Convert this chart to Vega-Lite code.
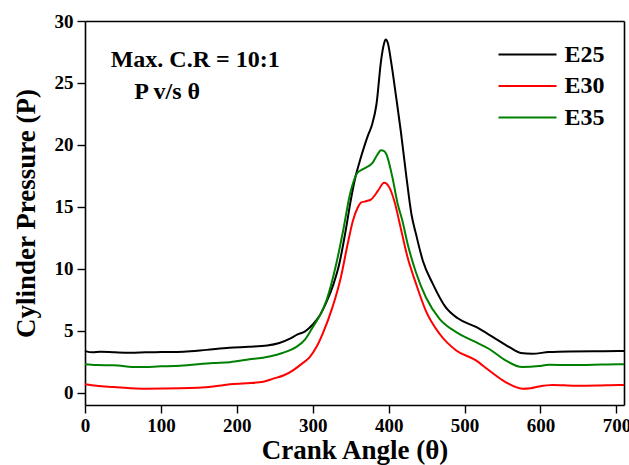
{
  "$schema": "https://vega.github.io/schema/vega-lite/v6.json",
  "width": 539,
  "height": 384,
  "autosize": {"type": "none"},
  "padding": {"left": 85, "top": 21, "right": 5, "bottom": 60},
  "background": "white",
  "config": {
    "font": "Liberation Serif",
    "view": {"stroke": null},
    "axis": {
      "domainColor": "#000000",
      "domainWidth": 1.6,
      "tickColor": "#000000",
      "tickWidth": 1.4,
      "grid": false,
      "labelFont": "Liberation Serif",
      "labelFontWeight": "bold",
      "labelFontSize": 19,
      "labelColor": "#000000",
      "titleFont": "Liberation Serif",
      "titleFontWeight": "bold",
      "titleFontSize": 27,
      "titleColor": "#000000"
    }
  },
  "datasets": {
    "curves": [
      {"s": "E25", "x": 0, "y": 3.35}, {"s": "E25", "x": 10, "y": 3.25}, {"s": "E25", "x": 20, "y": 3.3}, {"s": "E25", "x": 40, "y": 3.25},
      {"s": "E25", "x": 60, "y": 3.22}, {"s": "E25", "x": 80, "y": 3.25}, {"s": "E25", "x": 100, "y": 3.27}, {"s": "E25", "x": 130, "y": 3.3},
      {"s": "E25", "x": 160, "y": 3.45}, {"s": "E25", "x": 190, "y": 3.62}, {"s": "E25", "x": 215, "y": 3.7}, {"s": "E25", "x": 240, "y": 3.8},
      {"s": "E25", "x": 256, "y": 4.0}, {"s": "E25", "x": 270, "y": 4.35}, {"s": "E25", "x": 280, "y": 4.7}, {"s": "E25", "x": 290, "y": 4.95},
      {"s": "E25", "x": 300, "y": 5.5}, {"s": "E25", "x": 309, "y": 6.2}, {"s": "E25", "x": 318, "y": 7.3}, {"s": "E25", "x": 327, "y": 8.7}, {"s": "E25", "x": 335, "y": 10.4}, {"s": "E25", "x": 344, "y": 13.3},
      {"s": "E25", "x": 350, "y": 15.5}, {"s": "E25", "x": 357, "y": 17.6}, {"s": "E25", "x": 362, "y": 18.7}, {"s": "E25", "x": 368, "y": 19.9},
      {"s": "E25", "x": 373, "y": 20.8}, {"s": "E25", "x": 378, "y": 21.6}, {"s": "E25", "x": 384, "y": 23.3}, {"s": "E25", "x": 390, "y": 26.8},
      {"s": "E25", "x": 394, "y": 28.2}, {"s": "E25", "x": 396, "y": 28.5}, {"s": "E25", "x": 399, "y": 28.2}, {"s": "E25", "x": 403, "y": 26.8},
      {"s": "E25", "x": 410, "y": 23.8}, {"s": "E25", "x": 416, "y": 21.1}, {"s": "E25", "x": 423, "y": 17.6}, {"s": "E25", "x": 430, "y": 14.4},
      {"s": "E25", "x": 436, "y": 12.8}, {"s": "E25", "x": 445, "y": 10.65}, {"s": "E25", "x": 458, "y": 8.8}, {"s": "E25", "x": 475, "y": 6.9},
      {"s": "E25", "x": 491, "y": 6.0}, {"s": "E25", "x": 515, "y": 5.3}, {"s": "E25", "x": 537, "y": 4.5}, {"s": "E25", "x": 559, "y": 3.67},
      {"s": "E25", "x": 574, "y": 3.2}, {"s": "E25", "x": 589, "y": 3.14}, {"s": "E25", "x": 611, "y": 3.27}, {"s": "E25", "x": 638, "y": 3.32},
      {"s": "E25", "x": 670, "y": 3.33}, {"s": "E25", "x": 703, "y": 3.35}, {"s": "E25", "x": 710, "y": 3.35},

      {"s": "E30", "x": 0, "y": 0.67}, {"s": "E30", "x": 15, "y": 0.55}, {"s": "E30", "x": 37, "y": 0.45}, {"s": "E30", "x": 60, "y": 0.36},
      {"s": "E30", "x": 81, "y": 0.32}, {"s": "E30", "x": 125, "y": 0.35}, {"s": "E30", "x": 169, "y": 0.5}, {"s": "E30", "x": 191, "y": 0.67},
      {"s": "E30", "x": 212, "y": 0.75}, {"s": "E30", "x": 235, "y": 0.88}, {"s": "E30", "x": 248, "y": 1.13}, {"s": "E30", "x": 262, "y": 1.4},
      {"s": "E30", "x": 274, "y": 1.8}, {"s": "E30", "x": 285, "y": 2.3}, {"s": "E30", "x": 296, "y": 2.87}, {"s": "E30", "x": 305, "y": 3.7},
      {"s": "E30", "x": 313, "y": 4.75}, {"s": "E30", "x": 326, "y": 6.9}, {"s": "E30", "x": 337, "y": 9.3}, {"s": "E30", "x": 346, "y": 12.0},
      {"s": "E30", "x": 353, "y": 13.9}, {"s": "E30", "x": 359, "y": 14.9}, {"s": "E30", "x": 364, "y": 15.35}, {"s": "E30", "x": 370, "y": 15.45},
      {"s": "E30", "x": 377, "y": 15.6}, {"s": "E30", "x": 386, "y": 16.3}, {"s": "E30", "x": 394, "y": 16.95}, {"s": "E30", "x": 401, "y": 16.55},
      {"s": "E30", "x": 408, "y": 15.35}, {"s": "E30", "x": 414, "y": 13.8}, {"s": "E30", "x": 425, "y": 10.9}, {"s": "E30", "x": 436, "y": 8.8},
      {"s": "E30", "x": 449, "y": 6.6}, {"s": "E30", "x": 467, "y": 4.75}, {"s": "E30", "x": 489, "y": 3.4}, {"s": "E30", "x": 515, "y": 2.6},
      {"s": "E30", "x": 532, "y": 1.8}, {"s": "E30", "x": 554, "y": 0.85}, {"s": "E30", "x": 576, "y": 0.32}, {"s": "E30", "x": 587, "y": 0.36},
      {"s": "E30", "x": 598, "y": 0.5}, {"s": "E30", "x": 616, "y": 0.62}, {"s": "E30", "x": 646, "y": 0.55}, {"s": "E30", "x": 675, "y": 0.57},
      {"s": "E30", "x": 703, "y": 0.62}, {"s": "E30", "x": 710, "y": 0.62},

      {"s": "E35", "x": 0, "y": 2.28}, {"s": "E35", "x": 15, "y": 2.22}, {"s": "E35", "x": 37, "y": 2.2}, {"s": "E35", "x": 70, "y": 2.06},
      {"s": "E35", "x": 100, "y": 2.12}, {"s": "E35", "x": 125, "y": 2.17}, {"s": "E35", "x": 169, "y": 2.39}, {"s": "E35", "x": 191, "y": 2.46},
      {"s": "E35", "x": 213, "y": 2.65}, {"s": "E35", "x": 243, "y": 2.92}, {"s": "E35", "x": 260, "y": 3.2}, {"s": "E35", "x": 278, "y": 3.67},
      {"s": "E35", "x": 290, "y": 4.3}, {"s": "E35", "x": 300, "y": 5.28}, {"s": "E35", "x": 310, "y": 6.3}, {"s": "E35", "x": 318, "y": 7.43},
      {"s": "E35", "x": 331, "y": 10.4}, {"s": "E35", "x": 340, "y": 13.07}, {"s": "E35", "x": 349, "y": 16.0}, {"s": "E35", "x": 353, "y": 16.9},
      {"s": "E35", "x": 359, "y": 17.76}, {"s": "E35", "x": 365, "y": 18.0}, {"s": "E35", "x": 370, "y": 18.17}, {"s": "E35", "x": 379, "y": 18.57},
      {"s": "E35", "x": 385, "y": 19.2}, {"s": "E35", "x": 390, "y": 19.56}, {"s": "E35", "x": 394, "y": 19.5}, {"s": "E35", "x": 397, "y": 19.24},
      {"s": "E35", "x": 405, "y": 17.36}, {"s": "E35", "x": 412, "y": 15.2}, {"s": "E35", "x": 418, "y": 13.9}, {"s": "E35", "x": 425, "y": 12.0},
      {"s": "E35", "x": 436, "y": 9.7}, {"s": "E35", "x": 449, "y": 7.7}, {"s": "E35", "x": 467, "y": 5.96}, {"s": "E35", "x": 489, "y": 4.88},
      {"s": "E35", "x": 515, "y": 4.07}, {"s": "E35", "x": 532, "y": 3.54}, {"s": "E35", "x": 554, "y": 2.6}, {"s": "E35", "x": 576, "y": 2.06},
      {"s": "E35", "x": 598, "y": 2.14}, {"s": "E35", "x": 611, "y": 2.25}, {"s": "E35", "x": 640, "y": 2.22}, {"s": "E35", "x": 670, "y": 2.25},
      {"s": "E35", "x": 703, "y": 2.28}, {"s": "E35", "x": 710, "y": 2.28}
    ],
    "notes": [
      {"x": 33.8, "y": 26.3, "t": "Max. C.R = 10:1"},
      {"x": 64.8, "y": 23.67, "t": "P v/s θ"}
    ]
  },
  "resolve": {"axis": {"x": "independent", "y": "independent"}},
  "layer": [
    {
      "data": {"name": "curves"},
      "mark": {"type": "line", "interpolate": "monotone", "strokeWidth": 2},
      "encoding": {
        "x": {"field": "x", "type": "quantitative", "scale": {"domain": [0, 710], "nice": false, "zero": false},
          "axis": {"orient": "bottom", "values": [0, 100, 200, 300, 400, 500, 600, 700], "ticks": true, "tickSize": 8, "labelPadding": 3, "labelFlush": false, "title": "Crank Angle (θ)", "titlePadding": 2}},
        "y": {"field": "y", "type": "quantitative", "scale": {"domain": [-1, 30], "nice": false, "zero": false},
          "axis": {"orient": "left", "values": [0, 5, 10, 15, 20, 25, 30], "ticks": true, "tickSize": 8, "labelPadding": 4, "labelFlush": false, "title": "Cylinder Pressure (P)", "titlePadding": 14}},
        "color": {"field": "s", "type": "nominal",
          "scale": {"domain": ["E25", "E30", "E35"], "range": ["#000000", "#ff0000", "#008000"]},
          "legend": {"orient": "none", "legendX": 427, "legendY": 18, "title": null, "symbolType": "M-2,0H2", "symbolSize": 841, "symbolStrokeWidth": 2,
            "labelFont": "Liberation Serif", "labelFontWeight": "bold", "labelFontSize": 24, "labelColor": "#000000", "labelOffset": 21.5, "rowPadding": 3.5}}
      }
    },
    {
      "data": {"name": "curves"},
      "mark": {"type": "line", "opacity": 0},
      "encoding": {
        "x": {"field": "x", "type": "quantitative",
          "axis": {"orient": "top", "ticks": false, "labels": false, "domain": true, "title": null}},
        "y": {"field": "y", "type": "quantitative",
          "axis": {"orient": "right", "ticks": false, "labels": false, "domain": true, "title": null}},
        "detail": {"field": "s"}
      }
    },
    {
      "data": {"name": "notes"},
      "mark": {"type": "text", "align": "left", "baseline": "alphabetic", "font": "Liberation Serif", "fontWeight": "bold", "fontSize": 24, "color": "#000000"},
      "encoding": {
        "x": {"field": "x", "type": "quantitative", "axis": null},
        "y": {"field": "y", "type": "quantitative", "axis": null},
        "text": {"field": "t"}
      }
    }
  ]
}
